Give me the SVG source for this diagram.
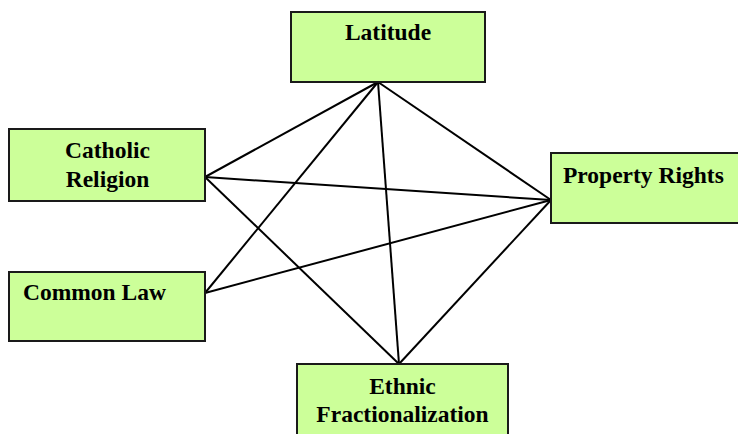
<svg xmlns="http://www.w3.org/2000/svg" width="738" height="434" viewBox="0 0 738 434">
<style>
.box{fill:#CCFF99;stroke:#1a1a1a;stroke-width:2}
.lbl{font-family:"Liberation Serif","Times New Roman",serif;font-weight:bold;font-size:23.5px;fill:#000}
.c{text-anchor:middle}
.edge{stroke:#000;stroke-width:2;fill:none}
</style>
<rect width="738" height="434" fill="#fff"/>
<g id="connectors">
<line class="edge" x1="378" y1="82" x2="205" y2="177"/>
<line class="edge" x1="378" y1="82" x2="205" y2="293"/>
<line class="edge" x1="378" y1="82" x2="399" y2="364"/>
<line class="edge" x1="378" y1="82" x2="551" y2="200"/>
<line class="edge" x1="205" y1="177" x2="551" y2="200"/>
<line class="edge" x1="205" y1="177" x2="399" y2="364"/>
<line class="edge" x1="205" y1="293" x2="551" y2="200"/>
<line class="edge" x1="551" y1="200" x2="399" y2="364"/>
</g>
<g id="latitude">
<rect class="box" x="291" y="12" width="194" height="70"/>
<text class="lbl c" x="388" y="40">Latitude</text>
</g>
<g id="catholic">
<rect class="box" x="9" y="129" width="196" height="72"/>
<text class="lbl c" x="107.5" y="158">Catholic</text>
<text class="lbl c" x="107.5" y="187">Religion</text>
</g>
<g id="property">
<rect class="box" x="551" y="153" width="190" height="70"/>
<text class="lbl" x="563" y="183">Property Rights</text>
</g>
<g id="commonlaw">
<rect class="box" x="9" y="272" width="196" height="69"/>
<text class="lbl" x="23" y="300">Common Law</text>
</g>
<g id="ethnic">
<rect class="box" x="297" y="364" width="211" height="75"/>
<text class="lbl c" x="402.5" y="394">Ethnic</text>
<text class="lbl c" x="402.5" y="422">Fractionalization</text>
</g>
</svg>
